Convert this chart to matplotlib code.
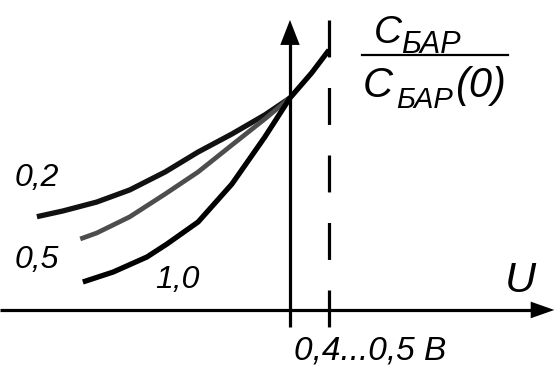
import matplotlib
matplotlib.use("Agg")
import matplotlib.pyplot as plt
from matplotlib.lines import Line2D

plt.rcParams['lines.scale_dashes'] = False

# --- data (U in volts, C_BAR / C_BAR(0)) ---
U_02 = [-2.92, -2.62, -2.23, -1.85, -1.44, -1.06, -0.67, -0.29, 0.0]
C_02 = [0.44, 0.467, 0.509, 0.566, 0.651, 0.745, 0.830, 0.920, 1.0]

U_05 = [-2.42, -2.23, -1.85, -1.44, -1.06, -0.67, -0.29, 0.0]
C_05 = [0.335, 0.363, 0.439, 0.547, 0.651, 0.778, 0.901, 1.0]

U_10 = [-2.39, -2.04, -1.65, -1.42, -1.06, -0.67, -0.29, 0.0, 0.25, 0.45]
C_10 = [0.132, 0.179, 0.250, 0.311, 0.415, 0.594, 0.816, 1.0, 1.118, 1.226]

U_limit = 0.45
curve_labels = ["0,2", "0,5", "1,0"]
x_label = "U"
limit_label = "0,4...0,5 В"

W, H = 555, 367
fig = plt.figure(figsize=(W / 100, H / 100), dpi=100)
ax = fig.add_axes([0, 0, 1, 1])
ax.set_xlim(-3.346, 3.058)
ax.set_ylim(-0.269, 1.462)
ax.axis('off')

def P(px, py):
    return (px / W, 1 - py / H)

# axes
ax.plot([-3.346, 2.95], [0, 0], color='black', lw=2.3, solid_capstyle='butt')
ax.annotate('', xy=(3.05, 0), xytext=(2.8, 0),
            arrowprops=dict(arrowstyle='-|>,head_length=1.7,head_width=0.6',
                            mutation_scale=10, lw=0, color='black',
                            shrinkA=0, shrinkB=0))
ax.plot([0, 0], [-0.080, 1.30], color='black', lw=2.3, solid_capstyle='butt')
ax.annotate('', xy=(0, 1.368), xytext=(0, 1.2),
            arrowprops=dict(arrowstyle='-|>,head_length=1.8,head_width=0.7',
                            mutation_scale=10, lw=0, color='black',
                            shrinkA=0, shrinkB=0))

# dashed limit line
ax.plot([U_limit, U_limit], [1.368, -0.080], color='black', lw=2.3,
        dashes=(26.6, 22.0), solid_capstyle='butt', dash_capstyle='butt')

# curves
ax.plot(U_02, C_02, color='#111111', lw=3.8, solid_capstyle='butt', solid_joinstyle='round')
ax.plot(U_05, C_05, color='#4d4d4d', lw=3.4, solid_capstyle='butt', solid_joinstyle='round')
ax.plot(U_10, C_10, color='#000000', lw=3.8, solid_capstyle='butt', solid_joinstyle='round')

fam = ['Liberation Sans', 'DejaVu Sans']
def T(px, py, s, size):
    fig.text(*P(px, py), s, fontsize=size, family=fam, style='italic',
             ha='left', va='baseline', color='black')

T(15, 186, curve_labels[0], 23)
T(15, 268, curve_labels[1], 23)
T(155, 288, curve_labels[2], 23)
T(294, 359, limit_label, 24)
T(505, 292, x_label, 31)

# fraction label
T(374, 43, "C", 28)
T(401, 53, "БАР", 22)
fig.add_artist(Line2D([362 / W, 508 / W], [1 - 55 / H, 1 - 55 / H],
                      transform=fig.transFigure, color='black', lw=1.6))
T(363, 97, "C", 30)
T(396, 108, "БАР", 21)
T(455, 97, "(0)", 30)

fig.savefig("out.png", dpi=100)
